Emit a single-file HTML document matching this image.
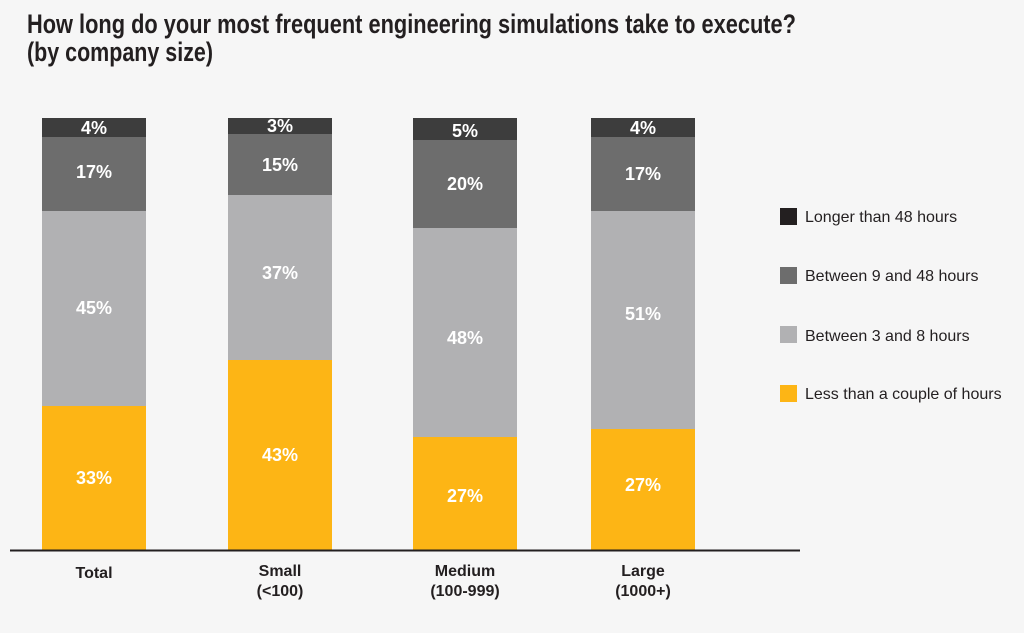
<!DOCTYPE html>
<html><head><meta charset="utf-8"><style>
html,body{margin:0;padding:0;background:#f6f6f6;}
svg{display:block}
</style></head><body>
<svg width="1024" height="633" viewBox="0 0 1024 633" xmlns="http://www.w3.org/2000/svg">
<rect width="1024" height="633" fill="#f6f6f6"/>
<g font-family="'Liberation Sans Narrow','Liberation Sans',sans-serif" font-weight="bold" fill="#231f20">
<text x="27" y="33" font-size="27" textLength="769" lengthAdjust="spacingAndGlyphs">How long do your most frequent engineering simulations take to execute?</text>
<text x="27" y="61" font-size="27" textLength="186" lengthAdjust="spacingAndGlyphs">(by company size)</text>
</g>
<!-- Total -->
<rect x="42" y="118" width="104" height="19" fill="#3d3d3d"/>
<rect x="42" y="137" width="104" height="74" fill="#6d6d6d"/>
<rect x="42" y="211" width="104" height="195" fill="#b1b1b3"/>
<rect x="42" y="406" width="104" height="144" fill="#fdb515"/>
<!-- Small -->
<rect x="228" y="118" width="104" height="16" fill="#3d3d3d"/>
<rect x="228" y="134" width="104" height="61" fill="#6d6d6d"/>
<rect x="228" y="195" width="104" height="165" fill="#b1b1b3"/>
<rect x="228" y="360" width="104" height="190" fill="#fdb515"/>
<!-- Medium -->
<rect x="413" y="118" width="104" height="22" fill="#3d3d3d"/>
<rect x="413" y="140" width="104" height="88" fill="#6d6d6d"/>
<rect x="413" y="228" width="104" height="209" fill="#b1b1b3"/>
<rect x="413" y="437" width="104" height="113" fill="#fdb515"/>
<!-- Large -->
<rect x="591" y="118" width="104" height="19" fill="#3d3d3d"/>
<rect x="591" y="137" width="104" height="74" fill="#6d6d6d"/>
<rect x="591" y="211" width="104" height="218" fill="#b1b1b3"/>
<rect x="591" y="429" width="104" height="121" fill="#fdb515"/>
<line x1="10" y1="550.5" x2="800" y2="550.5" stroke="#231f20" stroke-width="2"/>
<g font-family="'Liberation Sans Narrow','Liberation Sans',sans-serif" font-weight="bold" fill="#fff" font-size="18" text-anchor="middle">
<text x="94" y="134">4%</text><text x="94" y="178">17%</text><text x="94" y="314">45%</text><text x="94" y="484">33%</text>
<text x="280" y="132">3%</text><text x="280" y="171">15%</text><text x="280" y="279">37%</text><text x="280" y="461">43%</text>
<text x="465" y="137">5%</text><text x="465" y="190">20%</text><text x="465" y="344">48%</text><text x="465" y="502">27%</text>
<text x="643" y="134">4%</text><text x="643" y="180">17%</text><text x="643" y="320">51%</text><text x="643" y="491">27%</text>
</g>
<g font-family="'Liberation Sans','Liberation Sans Narrow',sans-serif" font-weight="bold" fill="#231f20" font-size="16" text-anchor="middle">
<text x="94" y="578">Total</text>
<text x="280" y="576">Small</text><text x="280" y="596">(&lt;100)</text>
<text x="465" y="576">Medium</text><text x="465" y="596">(100-999)</text>
<text x="643" y="576">Large</text><text x="643" y="596">(1000+)</text>
</g>
<rect x="780" y="208" width="17" height="17" fill="#231f20"/>
<rect x="780" y="267" width="17" height="17" fill="#6d6d6d"/>
<rect x="780" y="326" width="17" height="17" fill="#b1b1b3"/>
<rect x="780" y="385" width="17" height="17" fill="#fdb515"/>
<g font-family="'Liberation Sans',sans-serif" fill="#231f20" font-size="16">
<text x="805" y="222">Longer than 48 hours</text>
<text x="805" y="281">Between 9 and 48 hours</text>
<text x="805" y="341">Between 3 and 8 hours</text>
<text x="805" y="399">Less than a couple of hours</text>
</g>
</svg>
</body></html>
